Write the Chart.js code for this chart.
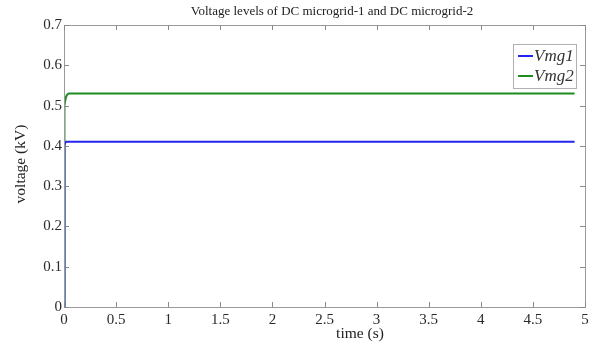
<!DOCTYPE html>
<html><head><meta charset="utf-8">
<script src="https://cdn.jsdelivr.net/npm/chart.js@4"></script>
<style>html,body{margin:0;padding:0;background:#fff}#wrap{width:595px;height:347px}</style>
</head><body><div id="wrap"><canvas id="c" width="595" height="347"></canvas></div>
<script>
const timeS = [0, 0.002, 0.004, 0.007, 0.01, 0.02, 0.03, 0.045, 0.08, 4.9];
const vmg1  = [0, 0.25, 0.37, 0.40, 0.407, 0.41, 0.41, 0.41, 0.41, 0.41];
const vmg2  = [0, 0.30, 0.46, 0.50, 0.51, 0.522, 0.527, 0.53, 0.53, 0.53];
const seriesNames = ['Vmg1', 'Vmg2'];
const xTicks = [0, 0.5, 1, 1.5, 2, 2.5, 3, 3.5, 4, 4.5, 5];
const yTicks = [0, 0.1, 0.2, 0.3, 0.4, 0.5, 0.6, 0.7];
const titleText = 'Voltage levels of DC microgrid-1 and DC microgrid-2';
const xLabel = 'time (s)';
const yLabel = 'voltage (kV)';
const colors = ['#2424f2', '#1f8c1f'];
const serif = '"Liberation Serif", "Times New Roman", serif';

const pts = arr => timeS.map((t, i) => ({x: t, y: arr[i]}));

const decor = {
  id: 'decor',
  afterDraw(chart) {
    const {ctx, chartArea: a, scales: {x, y}} = chart;
    ctx.save();
    ctx.strokeStyle = '#9a9a9a';
    ctx.lineWidth = 1;
    ctx.strokeRect(a.left + 0.5, a.top + 0.5, a.right - a.left, a.bottom - a.top);
    ctx.strokeStyle = '#8a8a8a';
    ctx.beginPath();
    xTicks.forEach(v => {
      const px = Math.round(x.getPixelForValue(v)) + 0.5;
      ctx.moveTo(px, a.bottom); ctx.lineTo(px, a.bottom - 5);
      ctx.moveTo(px, a.top); ctx.lineTo(px, a.top + 5);
    });
    yTicks.forEach(v => {
      const py = Math.round(y.getPixelForValue(v)) + 0.5;
      ctx.moveTo(a.left, py); ctx.lineTo(a.left + 5, py);
      ctx.moveTo(a.right, py); ctx.lineTo(a.right - 5, py);
    });
    ctx.stroke();
    ctx.fillStyle = '#222';
    ctx.font = '13px ' + serif;
    ctx.textAlign = 'center'; ctx.textBaseline = 'middle';
    ctx.fillText(titleText, 332, 12);
    ctx.font = '15.5px ' + serif;
    ctx.fillText(xLabel, 360, 334);
    ctx.save();
    ctx.translate(21, 164);
    ctx.rotate(-Math.PI / 2);
    ctx.fillText(yLabel, 0, 0);
    ctx.restore();
    const lx = 513, ly = 44, lw = 63, lh = 44;
    ctx.fillStyle = '#fff';
    ctx.fillRect(lx, ly, lw, lh);
    ctx.strokeStyle = '#b0b0b0';
    ctx.strokeRect(lx + 0.5, ly + 0.5, lw, lh);
    ctx.font = 'italic 17px ' + serif;
    ctx.textAlign = 'left';
    seriesNames.forEach((n, i) => {
      const yy = ly + 12 + i * 20;
      ctx.strokeStyle = colors[i];
      ctx.lineWidth = 2;
      ctx.beginPath(); ctx.moveTo(lx + 5, yy); ctx.lineTo(lx + 20, yy); ctx.stroke();
      ctx.fillStyle = '#333';
      ctx.fillText(n, lx + 21, yy + 1);
    });
    ctx.restore();
  }
};

new Chart(document.getElementById('c'), {
  type: 'line',
  data: {
    datasets: [
      {label: seriesNames[0], data: pts(vmg1), borderColor: colors[0], borderWidth: 2, pointRadius: 0, tension: 0, fill: false},
      {label: seriesNames[1], data: pts(vmg2), borderColor: colors[1], borderWidth: 2, pointRadius: 0, tension: 0, fill: false}
    ]
  },
  options: {
    responsive: false, animation: false,
    layout: {padding: {left: 0, right: 10, top: 25, bottom: 0}},
    plugins: {legend: {display: false}, tooltip: {enabled: false}},
    scales: {
      x: {
        type: 'linear', min: 0, max: 5,
        afterBuildTicks: s => { s.ticks = xTicks.map(v => ({value: v})); },
        afterFit: s => { s.height = 40; },
        grid: {display: false, drawTicks: false},
        border: {display: false},
        ticks: {color: '#2a2a2a', font: {family: serif, size: 15}, padding: 4, maxRotation: 0,
                callback: v => String(v)}
      },
      y: {
        min: 0, max: 0.7,
        afterBuildTicks: s => { s.ticks = yTicks.map(v => ({value: v})); },
        afterFit: s => { s.width = 64; },
        grid: {display: false, drawTicks: false},
        border: {display: false},
        ticks: {color: '#2a2a2a', font: {family: serif, size: 15}, padding: 2,
                callback: v => (v === 0 ? '0' : String(Math.round(v * 10) / 10))}
      }
    }
  },
  plugins: [decor]
});
</script>
</body></html>
